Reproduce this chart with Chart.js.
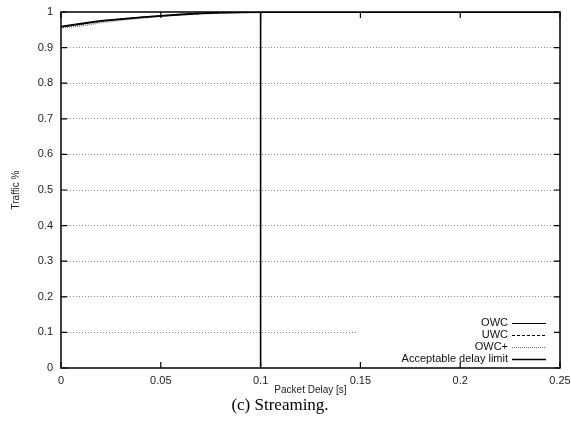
<!DOCTYPE html>
<html>
<head>
<meta charset="utf-8">
<script src="https://cdn.jsdelivr.net/npm/chart.js@4/dist/chart.umd.min.js"></script>
<style>
  html, body { margin: 0; padding: 0; background: #fff; }
  #wrap { width: 571px; height: 423px; }
</style>
</head>
<body>
<div id="wrap"><canvas id="chart" width="571" height="423"></canvas></div>
<script>
// 데이터
const delays = [0, 0.01, 0.02, 0.03, 0.04, 0.05, 0.06, 0.07, 0.08, 0.09, 0.1, 0.15, 0.2, 0.25];
const owc     = [0.959, 0.967, 0.975, 0.980, 0.985, 0.989, 0.993, 0.996, 0.998, 0.999, 1, 1, 1, 1];
const uwc     = [0.958, 0.966, 0.974, 0.980, 0.985, 0.989, 0.993, 0.996, 0.998, 0.999, 1, 1, 1, 1];
const owcPlus = [0.955, 0.961, 0.970, 0.977, 0.983, 0.988, 0.992, 0.995, 0.997, 0.999, 1, 1, 1, 1];
const limitX  = [0.1, 0.1];
const limitY  = [0, 1];
const seriesNames = ['OWC', 'UWC', 'OWC+', 'Acceptable delay limit'];
const xTicks = [0, 0.05, 0.1, 0.15, 0.2, 0.25];
const yTicks = [0, 0.1, 0.2, 0.3, 0.4, 0.5, 0.6, 0.7, 0.8, 0.9, 1];
const caption = '(c) Streaming.';

const SANS = "'Liberation Sans', Arial, sans-serif";

function toPoints(xs, ys) {
    return xs.map((x, i) => ({ x: x, y: ys[i] }));
}

// 범례 + 테두리 + 안쪽 눈금
const framePlugin = {
    id: 'frame',
    afterDatasetsDraw(chart) {
        const ctx = chart.ctx;
        const a = chart.chartArea;
        const xs = chart.scales.x;
        const ys = chart.scales.y;

        // 범례 상자 (불투명)
        ctx.save();
        ctx.fillStyle = '#fff';
        ctx.fillRect(358, a.bottom - 52, 197, 47);
        ctx.font = '11px ' + SANS;
        ctx.fillStyle = '#111';
        ctx.textAlign = 'right';
        ctx.textBaseline = 'middle';
        chart.data.datasets.forEach((ds, i) => {
            const y = a.bottom - 45 + i * 12;
            ctx.fillText(ds.label, 508, y);
            ctx.beginPath();
            ctx.strokeStyle = ds.borderColor;
            ctx.lineWidth = ds.legendWidth;
            ctx.setLineDash(ds.borderDash || []);
            ctx.moveTo(512, y + 0.5);
            ctx.lineTo(546, y + 0.5);
            ctx.stroke();
        });
        ctx.restore();

        // 테두리
        ctx.save();
        ctx.strokeStyle = '#000';
        ctx.lineWidth = 1.5;
        ctx.strokeRect(a.left, a.top, a.right - a.left, a.bottom - a.top);
        ctx.lineWidth = 1.2;
        ctx.beginPath();
        xTicks.forEach(v => {
            const px = xs.getPixelForValue(v);
            ctx.moveTo(px, a.bottom); ctx.lineTo(px, a.bottom - 6);
            ctx.moveTo(px, a.top); ctx.lineTo(px, a.top + 6);
        });
        yTicks.forEach(v => {
            const py = ys.getPixelForValue(v);
            ctx.moveTo(a.left, py); ctx.lineTo(a.left + 6, py);
            ctx.moveTo(a.right, py); ctx.lineTo(a.right - 6, py);
        });
        ctx.stroke();
        ctx.restore();
    }
};

new Chart(document.getElementById('chart'), {
    type: 'line',
    data: {
        datasets: [
            {
                label: seriesNames[0],
                data: toPoints(delays, owc),
                borderColor: '#000',
                borderWidth: 1.8,
                legendWidth: 1.2
            },
            {
                label: seriesNames[1],
                data: toPoints(delays, uwc),
                borderColor: '#000',
                borderWidth: 1.2,
                borderDash: [3, 2],
                legendWidth: 1
            },
            {
                label: seriesNames[2],
                data: toPoints(delays, owcPlus),
                borderColor: '#777',
                borderWidth: 1.5,
                borderDash: [1, 1],
                legendWidth: 1
            },
            {
                label: seriesNames[3],
                data: toPoints(limitX, limitY),
                borderColor: '#000',
                borderWidth: 1.6,
                legendWidth: 1.4
            }
        ]
    },
    options: {
        responsive: false,
        animation: false,
        elements: { point: { radius: 0 }, line: { tension: 0 } },
        layout: { padding: { top: 12, right: 11, left: 0, bottom: 4 } },
        plugins: {
            legend: { display: false },
            tooltip: { enabled: false },
            title: {
                display: true,
                position: 'bottom',
                text: caption,
                color: '#000',
                font: { family: "'Liberation Serif', 'Times New Roman', serif", size: 17, weight: 'normal' },
                padding: { top: 0, bottom: 3 }
            }
        },
        scales: {
            x: {
                type: 'linear',
                min: 0,
                max: 0.25,
                afterBuildTicks(scale) { scale.ticks = xTicks.map(v => ({ value: v })); },
                afterFit(scale) {
                    scale.height = 27.6;
                    scale.paddingRight = 0;
                    scale.paddingLeft = 0;
                },
                ticks: {
                    color: '#222',
                    padding: 6,
                    maxRotation: 0,
                    font: { family: SANS, size: 11 },
                    callback: v => String(v)
                },
                grid: { display: false, drawTicks: false },
                border: { display: false },
                title: {
                    display: true,
                    text: 'Packet Delay [s]',
                    color: '#222',
                    font: { family: SANS, size: 10 },
                    padding: { top: 0, bottom: -1 }
                }
            },
            y: {
                min: 0,
                max: 1,
                afterBuildTicks(scale) { scale.ticks = yTicks.map(v => ({ value: v })); },
                afterFit(scale) {
                    scale.width = 61;
                    scale.paddingTop = 0;
                    scale.paddingBottom = 0;
                },
                ticks: {
                    color: '#222',
                    padding: 8,
                    font: { family: SANS, size: 11 },
                    callback: v => String(v)
                },
                grid: {
                    drawTicks: false,
                    lineWidth: 1,
                    color: c => (c.tick && (c.tick.value === 0 || c.tick.value === 1)) ? 'rgba(0,0,0,0)' : '#888'
                },
                border: { display: false, dash: [1, 2] },
                title: {
                    display: true,
                    text: 'Traffic %',
                    color: '#222',
                    font: { family: SANS, size: 10 },
                    padding: { top: 10, bottom: 0 }
                }
            }
        }
    },
    plugins: [framePlugin]
});
</script>
</body>
</html>
